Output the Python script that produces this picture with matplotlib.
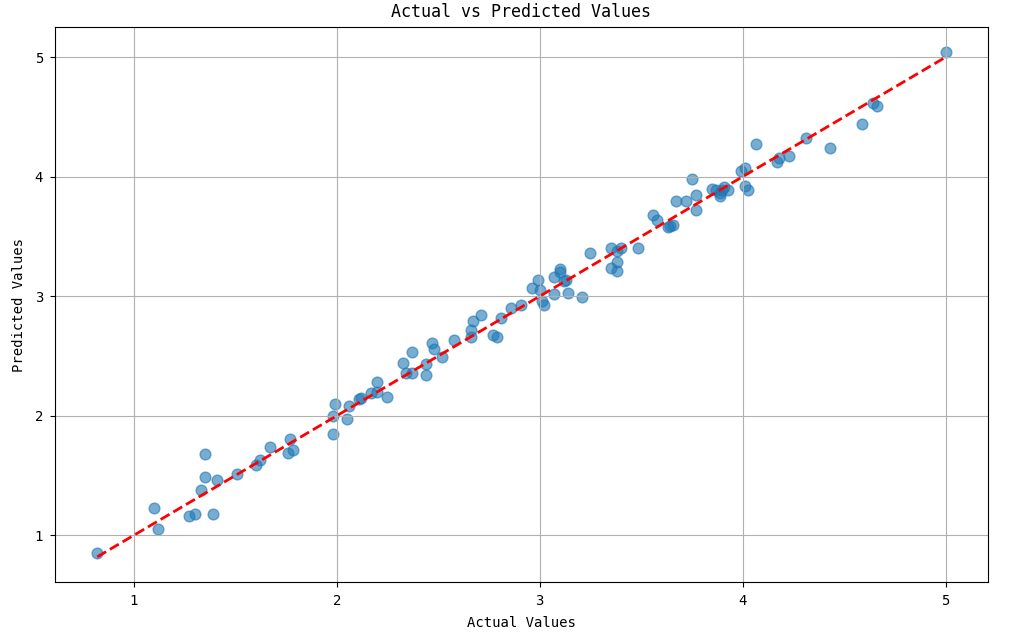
import numpy as np
import matplotlib
matplotlib.use('Agg')
from matplotlib import pyplot as plt

plt.rcParams['font.family'] = ['DejaVu Sans Mono']

y_test = [0.82, 1.10, 1.12, 1.27, 1.30, 1.39, 1.35, 1.35, 1.33, 1.41,
          1.51, 1.60, 1.62, 1.67, 1.76, 1.785, 1.77, 1.99, 1.98, 1.98,
          2.05, 2.06, 2.11, 2.12, 2.17, 2.20, 2.20, 2.25, 2.325, 2.34,
          2.37, 2.37, 2.44, 2.44, 2.47, 2.48, 2.52, 2.58, 2.66, 2.66,
          2.67, 2.71, 2.77, 2.79, 2.81, 2.86, 2.91, 2.96, 2.99, 3.00,
          3.01, 3.02, 3.07, 3.07, 3.10, 3.10, 3.12, 3.13, 3.14, 3.21,
          3.25, 3.35, 3.35, 3.38, 3.38, 3.38, 3.40, 3.485, 3.56, 3.58,
          3.63, 3.64, 3.655, 3.67, 3.72, 3.75, 3.77, 3.77, 3.85, 3.87,
          3.89, 3.89, 3.90, 3.91, 3.93, 3.99, 4.01, 4.01, 4.025, 4.065,
          4.17, 4.18, 4.23, 4.31, 4.43, 4.59, 4.64, 4.66, 5.00]
y_pred = [0.85, 1.23, 1.05, 1.16, 1.18, 1.18, 1.68, 1.49, 1.38, 1.46,
          1.51, 1.59, 1.63, 1.74, 1.69, 1.71, 1.81, 2.10, 2.00, 1.85,
          1.97, 2.08, 2.14, 2.15, 2.19, 2.20, 2.28, 2.16, 2.44, 2.36,
          2.36, 2.53, 2.43, 2.34, 2.61, 2.56, 2.49, 2.63, 2.66, 2.72,
          2.79, 2.84, 2.68, 2.66, 2.82, 2.90, 2.93, 3.07, 3.14, 3.05,
          2.96, 2.93, 3.02, 3.16, 3.23, 3.20, 3.13, 3.14, 3.03, 2.99,
          3.36, 3.40, 3.24, 3.29, 3.21, 3.38, 3.40, 3.40, 3.68, 3.64,
          3.58, 3.59, 3.60, 3.80, 3.80, 3.98, 3.85, 3.72, 3.90, 3.89,
          3.84, 3.86, 3.89, 3.91, 3.89, 4.05, 4.07, 3.925, 3.89, 4.27,
          4.12, 4.16, 4.175, 4.32, 4.24, 4.44, 4.62, 4.595, 5.04]

y_test = np.array(y_test)
y_pred = np.array(y_pred)

fig = plt.figure(figsize=(10.34, 6.32), dpi=100)
ax = fig.add_axes([0.053, 0.079, 0.9025, 0.878])
ax.scatter(y_test, y_pred, s=60, alpha=0.6)
ax.plot([y_test.min(), y_test.max()], [y_test.min(), y_test.max()], 'r--', lw=2)
ax.set_xlabel('Actual Values', fontsize=10, labelpad=6)
ax.set_ylabel('Predicted Values', fontsize=10, labelpad=6)
ax.set_title('Actual vs Predicted Values', fontsize=12, pad=7)
ax.tick_params(labelsize=10, pad=5)
ax.grid(True)

plt.savefig('out.png')
plt.close()
